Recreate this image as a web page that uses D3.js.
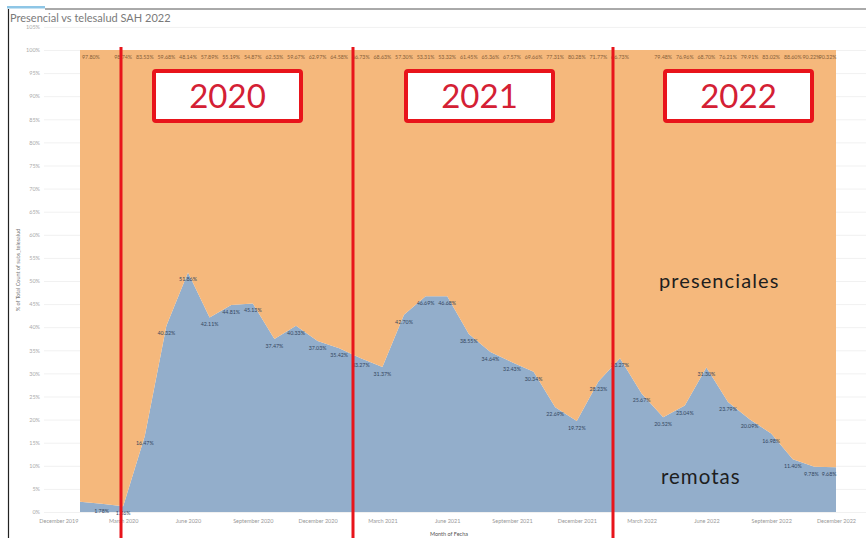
<!DOCTYPE html>
<html><head><meta charset="utf-8">
<script src="https://cdn.jsdelivr.net/npm/d3@7"></script>
<style>
html,body{margin:0;padding:0;background:#fff;}
svg{display:block;font-family:Lato,"Open Sans",sans-serif;}
</style></head>
<body><svg id="c" width="866" height="538"></svg>
<script>
// ---- data ----
const months = ["Jan 2020","Feb 2020","Mar 2020","Apr 2020","May 2020","Jun 2020","Jul 2020","Aug 2020","Sep 2020","Oct 2020","Nov 2020","Dec 2020",
"Jan 2021","Feb 2021","Mar 2021","Apr 2021","May 2021","Jun 2021","Jul 2021","Aug 2021","Sep 2021","Oct 2021","Nov 2021","Dec 2021",
"Jan 2022","Feb 2022","Mar 2022","Apr 2022","May 2022","Jun 2022","Jul 2022","Aug 2022","Sep 2022","Oct 2022","Nov 2022","Dec 2022"];
const remotas = [2.20,1.78,1.26,16.47,40.32,51.86,42.11,44.81,45.13,37.47,40.33,37.03,
35.42,33.27,31.37,42.70,46.69,46.68,38.55,34.64,32.43,30.34,22.69,19.72,
28.23,33.27,25.67,20.52,23.04,31.30,23.79,20.09,16.98,11.40,9.78,9.68];
const presenciales = [97.80,98.22,98.74,83.53,59.68,48.14,57.89,55.19,54.87,62.53,59.67,62.97,
64.58,66.73,68.63,57.30,53.31,53.32,61.45,65.36,67.57,69.66,77.31,80.28,
71.77,66.73,74.33,79.48,76.96,68.70,76.21,79.91,83.02,88.60,90.22,90.32];
const xTickLabels = ["December 2019","March 2020","June 2020","September 2020","December 2020","March 2021","June 2021","September 2021","December 2021","March 2022","June 2022","September 2022","December 2022"];
const yTicks = [0,5,10,15,20,25,30,35,40,45,50,55,60,65,70,75,80,85,90,95,100,105];
const yearBoxes = ["2020","2021","2022"];
const hiddenRemotas = [0];
const hiddenPres = [1,26];

// ---- chart ----
const svg = d3.select("#c");
const x = d3.scaleLinear().domain([0,36]).range([58.4,836]);
const y = d3.scaleLinear().domain([0,100]).range([512,50]);

// chrome
svg.append("rect").attr("x",7).attr("y",6).attr("width",38).attr("height",2.5).attr("fill","#8ec6e6");
svg.append("line").attr("x1",45).attr("x2",866).attr("y1",9).attr("y2",9).attr("stroke","#555").attr("stroke-width",1);
svg.append("line").attr("x1",8.5).attr("x2",8.5).attr("y1",9).attr("y2",538).attr("stroke","#222").attr("stroke-width",1.2);
svg.append("text").attr("x",10).attr("y",22).attr("font-size",11).attr("fill","#7a7a7a").text("Presencial vs telesalud SAH 2022");

// gridlines + y ticks
svg.append("g").selectAll("line").data(yTicks).join("line")
  .attr("x1",44).attr("x2",866).attr("y1",d=>y(d)+0.5).attr("y2",d=>y(d)+0.5)
  .attr("stroke","#f1f1f1").attr("stroke-width",1);
const yAxis = svg.append("g").attr("transform","translate(40,0)")
  .call(d3.axisLeft(y).tickValues(yTicks).tickSize(0).tickPadding(0).tickFormat(d=>d+"%"));
yAxis.select(".domain").remove();
yAxis.selectAll("text").attr("font-size",5.5).attr("fill","#aaa").attr("font-family","Lato,sans-serif");

svg.append("text").attr("transform","translate(20,270) rotate(-90)").attr("text-anchor","middle")
  .attr("font-size",5.5).attr("fill","#777").text("% of Total Count of subs_telesalud");

// stacked areas
const table = months.map((m,i)=>({idx:i+1, remotas:remotas[i], presenciales:presenciales[i]}));
const stack = d3.stack().keys(["remotas","presenciales"]);
const series = stack(table);
const colors = {remotas:"#93aecb", presenciales:"#f5b87c"};
const area = d3.area().x(d=>x(d.data.idx)).y0(d=>y(d[0])).y1(d=>y(d[1]));
svg.append("g").selectAll("path").data(series).join("path")
  .attr("d",area).attr("fill",s=>colors[s.key]);

// labels
const lab = svg.append("g").attr("font-size",5.3);
const n = table.length;
table.forEach((d,i)=>{
  const px = x(d.idx);
  let anchor = "middle", lx = px;
  if(i===0){anchor="start"; lx=px+2;}
  if(i===n-2){lx=px-3;}
  if(i===n-1){anchor="end"; lx=px+0.5;}
  if(!hiddenRemotas.includes(i)){
    lab.append("text").attr("x",lx).attr("y",y(d.remotas)+9).attr("text-anchor",anchor)
      .attr("fill","#34465e").text(d.remotas.toFixed(2)+"%");
  }
  if(!hiddenPres.includes(i)){
    lab.append("text").attr("x",lx).attr("y",y(100)+9).attr("text-anchor",anchor)
      .attr("fill","#86603a").text(d.presenciales.toFixed(2)+"%");
  }
});

// x axis
const xAxis = svg.append("g").attr("transform","translate(0,519)")
  .call(d3.axisBottom(x).tickValues(d3.range(0,37,3)).tickSize(0).tickPadding(0).tickFormat((d,i)=>xTickLabels[i]));
xAxis.select(".domain").remove();
xAxis.selectAll("text").attr("font-size",5.5).attr("fill","#999").attr("font-family","Lato,sans-serif");
svg.append("text").attr("x",449).attr("y",536).attr("text-anchor","middle").attr("font-size",5.5).attr("fill","#555").text("Month of Fecha");

// overlays: red separators
const sepX = [121,353,613];
svg.append("g").selectAll("line").data(sepX).join("line")
  .attr("x1",d=>d).attr("x2",d=>d).attr("y1",47).attr("y2",538)
  .attr("stroke","#e8141b").attr("stroke-width",3);

// year boxes
const boxX = [152,404,663];
const bg = svg.append("g");
yearBoxes.forEach((t,i)=>{
  bg.append("rect").attr("x",boxX[i]+2).attr("y",71).attr("width",147).attr("height",50).attr("rx",2)
    .attr("fill","#fff").attr("stroke","#e8141b").attr("stroke-width",4);
  bg.append("text").attr("x",boxX[i]+75.5).attr("y",108).attr("text-anchor","middle")
    .attr("font-size",33).attr("fill","#d42034").attr("font-family","Lato,'Open Sans',sans-serif").text(t);
});

svg.append("text").attr("x",659).attr("y",288).attr("font-size",20).attr("fill","#1e1e1e").attr("letter-spacing",1.1).text("presenciales");
svg.append("text").attr("x",661).attr("y",484).attr("font-size",20.5).attr("fill","#1e1e1e").attr("letter-spacing",1.0).text("remotas");
</script></body></html>
